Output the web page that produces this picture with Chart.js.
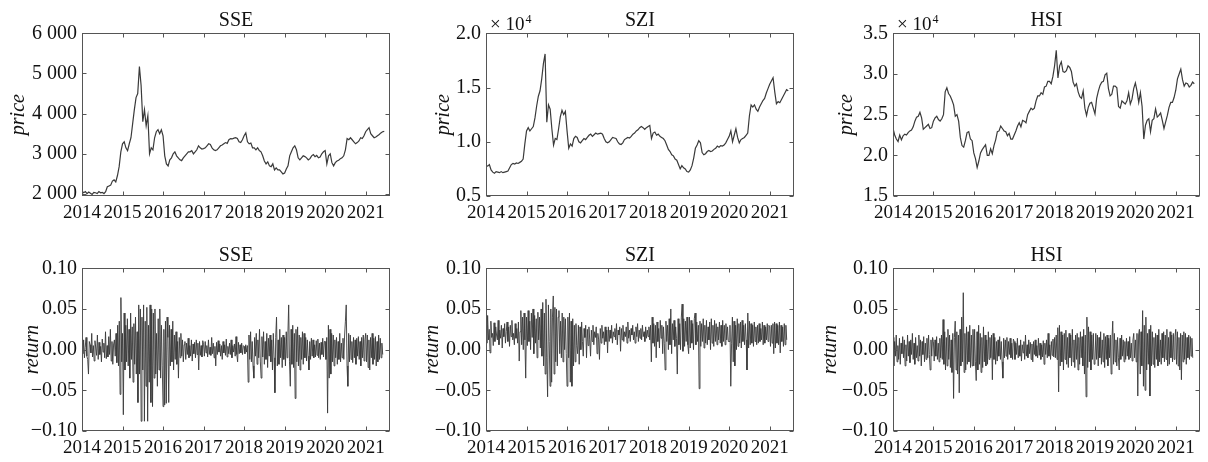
<!DOCTYPE html>
<html>
<head>
<meta charset="utf-8">
<script src="https://cdn.jsdelivr.net/npm/chart.js@4.4.1/dist/chart.umd.min.js"></script>
<style>
  body { margin: 0; background: #fff; overflow: hidden; }
  #wrap { position: relative; width: 1208px; height: 462px; }
  #wrap canvas { position: absolute; }
</style>
</head>
<body>
<div id="wrap">
  <canvas id="ssePriceChart" width="398" height="226" style="left:0px;top:0px"></canvas>
  <canvas id="szPriceChart" width="398" height="226" style="left:404px;top:0px"></canvas>
  <canvas id="hsiPriceChart" width="397" height="226" style="left:811px;top:0px"></canvas>
  <canvas id="sseReturnChart" width="398" height="226" style="left:0px;top:235px"></canvas>
  <canvas id="szReturnChart" width="398" height="226" style="left:404px;top:235px"></canvas>
  <canvas id="hsiReturnChart" width="397" height="226" style="left:811px;top:235px"></canvas>
</div>
<script>
// x axis: years, first observation at start of 2014
const firstYear = 2014
const years = [2014, 2015, 2016, 2017, 2018, 2019, 2020, 2021]

// price series, twice a month (24 per year)
const ssePrice = [
  2080, 2030, 2060, 2010, 2050, 2020, 1990, 2040, 2030, 2010, 2060, 2030, 2040, 2010, 2060, 2180, 2200, 2220, 2320, 2350, 2300, 2460, 2680, 3050,
  3250, 3300, 3150, 3080, 3250, 3400, 3750, 4100, 4400, 4500, 5170, 4700, 3800, 4100, 3700, 3950, 3000, 3150, 3100, 3400, 3550, 3600, 3500, 3600,
  3450, 2950, 2750, 2700, 2850, 2900, 3000, 3050, 2950, 2900, 2850, 2830, 2900, 2950, 3000, 3050, 3050, 3080, 3000, 3050, 3100, 3200, 3150, 3120,
  3130, 3150, 3200, 3250, 3230, 3150, 3100, 3080, 3100, 3150, 3200, 3220, 3250, 3280, 3260, 3350, 3380, 3370, 3390, 3400, 3380, 3300, 3280, 3350,
  3450, 3520, 3300, 3250, 3270, 3150, 3150, 3100, 3150, 3080, 3050, 2950, 2820, 2750, 2800, 2700, 2680, 2750, 2600, 2650, 2600, 2600, 2550, 2500,
  2520, 2620, 2700, 2950, 3050, 3150, 3200, 3100, 2900, 2850, 2900, 2950, 2930, 2900, 2850, 2880, 2950, 2980, 2930, 2960, 2900, 2920, 3000, 3050,
  3080, 2750, 2950, 3000, 2780, 2700, 2780, 2820, 2840, 2880, 2900, 2950, 3100, 3380, 3350, 3400, 3350, 3300, 3250, 3280, 3320, 3400, 3380, 3450,
  3550, 3600, 3650, 3500, 3450, 3400, 3420, 3450, 3480, 3520, 3550, 3560
]
const szPrice = [
  7800, 7750, 7900, 7400, 7200, 7100, 7250, 7200, 7150, 7250, 7150, 7200, 7250, 7300, 7600, 7900, 8000, 7950, 8050, 8000, 8100, 8200, 8400, 9800,
  11000, 11300, 11000, 11200, 11400, 12200, 13300, 14200, 14700, 15800, 17200, 18100, 11800, 13400, 13000, 11200, 9700, 10300, 10200, 11200, 12300, 12900, 12500, 12800,
  11000, 9400, 9800, 9600, 10300, 10500, 10400, 10000, 9900, 10100, 10300, 10200, 10400, 10600, 10700, 10500, 10650, 10800, 10700, 10750, 10800, 10700, 10300, 10000,
  9900, 10000, 10200, 10400, 10350, 10300, 10000, 9800, 9750, 9900, 10200, 10300, 10400, 10350, 10500, 10700, 10800, 11000, 11100, 11300, 11400, 11300, 11150, 11300,
  11400, 11500, 10300, 10800, 10900, 10600, 10700, 10500, 10400, 10300, 10100, 9700, 9300, 9100, 8800, 8700, 8400, 8300, 7900, 7500, 7800, 7600, 7500, 7250,
  7200, 7400, 7800, 8500, 9400, 9700, 10100, 9900, 9000, 8800, 8900, 9100, 9200, 9100, 9150, 9300, 9400, 9600, 9500, 9650, 9600, 9700, 9900, 10200,
  10500, 11000, 10000, 10600, 11200, 10400, 9900, 10200, 10300, 10400, 10600, 10800, 12400, 13400, 13200, 13400, 13000, 12800, 13200, 13500, 13800, 14000, 14500, 14900,
  15300, 15600, 15900, 14600, 13500, 13700, 13600, 13900, 14200, 14500, 14800, 14700
]
const hsiPrice = [
  23300, 22500, 22000, 21700, 22500, 21900, 22400, 22600, 22500, 22800, 23000, 23100, 23500, 24200, 24700, 24800, 25300, 24600, 23200, 23400, 23600, 23800, 23300, 23400,
  24200, 24600, 24800, 24400, 24200, 24500, 25000, 27800, 28300, 27600, 27300, 26800, 26200, 24800, 25000, 24200, 22200, 21200, 21000, 21800, 22800, 22900, 22000, 21800,
  20300, 19600, 18500, 19300, 20300, 20700, 21000, 21300, 20000, 20000, 20800, 20200, 21200, 21900, 22900, 23000, 23600, 23300, 23000, 22900, 22400, 22700, 22000, 22000,
  22500, 23000, 23600, 24000, 23500, 24300, 24200, 24000, 25000, 25400, 25800, 25600, 25800, 26700, 27300, 27300, 27700, 27500, 28400, 28500, 29100, 29100, 28800, 29700,
  31000, 32900, 29500, 31000, 31500, 30300, 30200, 30400, 31000, 30800, 30300, 29000, 28500, 28800, 27800, 27200, 27000, 27900, 25800, 24900, 25900, 26400, 26500, 25800,
  25100, 27000, 27900, 28600, 29000, 29100, 29900, 30100, 28200, 27300, 27500, 28500, 28500, 28300, 26000, 25800, 26700, 26500, 26300, 26700, 27700, 26300, 26900, 28200,
  28900, 27900, 26500, 27700, 26000, 22000, 23700, 24300, 24500, 22900, 24300, 24500, 25700, 24700, 24900, 25200, 24300, 23300, 24100, 24900, 25900, 26500, 26500, 27100,
  28000, 29400, 30000, 30600, 29300, 28500, 28900, 28800, 28400, 28600, 29000, 28800
]

// return series in per-mille, roughly weekly (50 per year)
const sseReturn = [
  8, -5, 12, -10, 3, 15, -8, -12, -30, 10, 6, -4, 20, -9, 5, -14, 11, 2, -7, 18, -12, 9, -6, 4, -15, 13, -3, 8, -10, 22, -11, 5, -9, 16, -6, 25, -14, 10, -18, 7, 12, -8, 20, -16, 30, -20, 35, -55, 64, -15,
  20, -80, 45, -25, 30, -15, 38, -20, 25, -35, 45, -12, 28, -40, 32, -18, 40, -30, 22, -65, 55, -30, 50, -88, 40, -25, 55, -88, 35, -45, 52, -88, 30, -40, 55, -65, 50, -70, 45, -35, 50, -30, 20, -45, 38, -25, 50, -35, 30, -20,
  -70, 25, -68, 35, -66, 40, 15, -65, 30, -20, 25, -15, 35, -25, 18, -12, 22, -18, 10, -35, 15, -10, 20, -8, 12, -15, 6, 10, -12, 8, -6, 14, -10, 5, -8, 12, -14, 7, -5, 9, -10, 12, -6, 8, -25, 10, -7, 5, -9, 11,
  6, -8, 10, -4, 5, -9, 12, -6, 3, -7, 15, -5, 8, -10, 4, -20, 9, -6, 11, -3, 7, -8, 5, -12, 10, -4, 6, -7, 13, -9, 4, -5, 8, -6, 12, -10, 5, -3, 7, -8, 16, -6, -15, 9, -5, 6, -4, 8, -6, 5,
  4, -5, 6, -3, 5, -40, 18, -12, 22, -15, 10, -20, -35, 15, -8, 20, -18, 12, -10, 25, -14, -35, 16, -9, 22, -18, 10, -12, 20, -22, 14, -8, 18, -15, 12, -25, 20, -10, -53, 15, 40, -20, 12, -18, 25, -10, 15, -22, 18, -12,
  15, -20, 22, -10, 18, 55, -15, -45, 25, -18, 30, -22, 20, -60, 25, -15, 28, -20, 18, -25, 15, -12, 22, -18, 20, -10, 15, -14, 12, -8, -25, 10, -12, 14, -8, 12, -10, 6, -9, 11, -7, 13, -10, 8, -12, 9, -6, 14, -9, 10,
  10, -12, 15, -78, 30, -35, 25, -30, 20, -15, 18, -20, 12, -10, 15, -18, 10, -12, 20, -15, 8, -10, 14, -12, 18, 35, 55, -20, -45, 20, -15, 18, -12, 10, -16, 15, -10, 12, -18, 14, -8, 16, -12, 10, -20, 15, -10, 18, -14, 12,
  20, -15, 18, -22, 12, -25, 15, -10, 20, -18, 14, -12, 16, -20, 10, -15, 18, -12, 14, -10, 8, -6
]
const szReturn = [
  30, 8, 42, 12, 25, -4, 35, 15, 20, 5, 33, 10, 28, 18, 12, 36, 6, 24, 14, 30, 2, 26, 16, 32, 8, 22, 34, 10, 28, 4, 30, 16, 36, 12, 20, 6, 32, 14, 26, 8, 34, -14, 22, 48, 6, 40, 0, 45, 12, -35,
  40, 5, 48, 10, 35, 0, 45, 15, 50, -5, 42, 8, 38, -10, 46, 12, 40, 2, 50, -8, 58, -20, 45, -30, 62, -10, -58, 55, 10, -45, 50, -40, 40, 66, -30, 52, -15, 50, -20, 40, 48, -5, 35, -10, 45, -15, 40, 0, 38, -5,
  -45, 40, -10, 45, -40, 35, -45, 38, -20, 30, -15, 32, 5, -5, 30, -18, 28, 0, 34, 10, -8, 26, 15, 30, -10, 25, 5, 28, 12, -8, 24, 10, 30, 6, 22, 15, 28, -5, 20, 12, -12, 26, 8, 30, 14, 22, 6, 28, 10, 24,
  -4, 28, 10, 24, 14, 30, 8, 22, 16, 26, 12, 32, 6, 24, 18, 28, -2, 26, 12, 30, 10, 22, 16, 28, 8, 34, 14, 24, 10, 26, 18, 30, 12, 22, 8, 28, 16, 32, 10, 24, 14, 26, 12, 30, 16, 22, 10, 28, 14, 24,
  16, 28, 12, 30, -15, 40, 8, 32, 4, 30, -10, 34, 10, 26, 2, 36, 14, 30, -5, 28, 8, -25, 35, 10, 30, 0, 38, 6, 50, -5, 32, 12, 36, 4, 28, 14, -30, 38, 6, 32, 0, 40, 56, -2, 38, 4, 35, 10, 40, 6,
  -5, 40, 2, 36, 8, 32, 0, 38, 45, 6, 34, 10, 30, -48, 35, 4, 32, 10, 38, 2, 30, 8, 36, 6, 28, 12, 34, 0, 38, 8, 30, 4, 36, 10, 32, 6, 28, 12, 34, 8, 30, 4, 36, 10, 30, 6, 32, 12, 28, 10,
  10, 30, -45, 8, 40, -15, 35, -20, 30, 0, 38, 4, 32, 8, 34, 2, 36, 10, 30, 6, 32, 12, -25, 45, 2, 35, 6, 32, 8, 30, 4, 34, 10, 28, 6, 30, 8, 32, 10, 26, 12, 34, 6, 30, 8, 28, 12, 32, 10, 30,
  28, 4, 30, 8, 32, -5, 34, 2, 32, 8, 30, 6, 34, -4, 30, 10, 28, 4, 32, 6, 30, 12
]
const hsiReturn = [
  15, -20, 10, -8, 18, -15, 5, -12, 14, -18, 8, -5, 16, -10, 12, -20, 6, -14, 18, -8, 10, -16, 12, -6, 20, -12, 8, -18, 15, -10, 5, -14, 18, -8, 12, -20, 10, -6, 16, -15, 8, -12, 14, -10, 18, -6, -25, 12, -8, 15,
  10, -14, 12, -8, 16, -12, 8, -15, 14, -10, 18, -12, 37, -18, 22, -25, 15, -20, 25, -12, 18, -22, 12, -28, 20, -60, 15, 35, -25, 22, -30, 18, -53, 25, -20, 40, -15, 70, -28, 20, -25, 28, -18, 22, -15, 30, -22, 18, -20, 25,
  -20, 25, -15, -38, 22, -25, 30, -18, 20, -28, 15, -22, 28, -15, 18, -20, 12, -18, 22, -12, 15, -10, 18, -37, 20, -12, 15, -18, 10, -14, 12, -8, 16, -12, 10, -15, -35, 14, -10, 12, -8, 15, -12, 10, -6, 14, -10, 8, -12, 13,
  10, -12, 8, -6, 14, -10, 5, -8, 12, -14, 6, -4, 10, -12, 18, -8, 6, -10, 12, -5, 9, -12, 7, -15, 10, -6, 12, -8, 5, -10, 14, -7, 8, -12, 6, -9, 11, -18, 8, -6, 12, -10, 20, -8, 6, -12, 10, -7, 13, -9,
  15, -10, 18, -12, 27, -52, 30, -20, 22, -15, 18, -25, 20, -12, 24, -18, 15, -22, 20, -10, 18, -20, 25, -15, 12, -22, 18, -12, 20, -25, 15, -18, 22, -10, 16, -20, 25, -30, 18, -58, 40, -22, 28, -15, 22, -25, 18, -12, 20, -18,
  -15, 20, -12, 18, -20, 15, -10, 22, -18, 12, -15, 20, -22, 16, -12, 18, -20, 14, -10, 18, -30, 12, 35, -18, 20, -15, 12, -20, 15, -10, -25, 14, -12, 18, -8, 12, -15, 10, -12, 14, -8, 10, -12, 16, -10, 8, -14, 12, 20, -10,
  12, -15, 20, -57, 18, 25, -30, 22, -20, 48, -45, 30, -50, 40, -25, 20, -18, 25, -57, 30, -20, 22, -18, 15, -22, 20, -12, 18, -20, 25, -15, 12, -18, 20, -10, 22, -15, 18, -12, 25, -20, 15, -18, 22, -10, 18, -15, 20, -12, 16,
  25, -18, 22, -20, 15, -25, 20, -37, 18, -15, 22, -12, 20, -18, 15, -10, 18, -12, 16, -8, 14, -10
]

// y tick values
const sseTicks = [2000, 3000, 4000, 5000, 6000]
const szTicks = [5000, 10000, 15000, 20000]
const hsiTicks = [15000, 20000, 25000, 30000, 35000]
const returnTicks = [-0.1, -0.05, 0, 0.05, 0.1]

Chart.defaults.font.family = '"Liberation Serif", "Times New Roman", serif'
Chart.defaults.color = '#111'

const fmtThousands = v => String(v).replace(/(\d)(\d{3})$/, '$1 $2')
const fmtTenThousands = v => (v / 10000).toFixed(1)
const fmtReturn = v => (v < 0 ? '\u2212' : '') + Math.abs(v).toFixed(2)

function toPoints(values, perYear, unit){
    return values.map((v, i) => ({x: firstYear + i / perYear, y: v * unit}))
}

/*frame with inward ticks on all four sides, title over the plot box, and the x10^4 note*/
const boxAndTicks = {
    id: 'boxAndTicks',
    afterDraw(chart, args, opts){
        const {ctx, chartArea: a} = chart
        const sx = chart.scales.x, sy = chart.scales.y
        const len = 4
        ctx.save()
        ctx.strokeStyle = '#555'
        ctx.lineWidth = 1
        const l = Math.round(a.left) + 0.5, r = Math.round(a.right) - 0.5
        const t = Math.round(a.top) + 0.5, b = Math.round(a.bottom) - 0.5
        ctx.strokeRect(l, t, r - l, b - t)
        ctx.beginPath()
        sx.ticks.forEach(tk => {
            const p = Math.round(sx.getPixelForValue(tk.value)) + 0.5
            ctx.moveTo(p, b); ctx.lineTo(p, b - len)
            ctx.moveTo(p, t); ctx.lineTo(p, t + len)
        })
        sy.ticks.forEach(tk => {
            const p = Math.round(sy.getPixelForValue(tk.value)) + 0.5
            ctx.moveTo(l, p); ctx.lineTo(l + len, p)
            ctx.moveTo(r, p); ctx.lineTo(r - len, p)
        })
        ctx.stroke()

        ctx.fillStyle = '#111'
        ctx.font = '20px "Liberation Serif"'
        ctx.textAlign = 'center'
        ctx.textBaseline = 'middle'
        ctx.fillText(opts.title, (a.left + a.right) / 2, a.top - 13)

        if(opts.multiplier){
            ctx.textAlign = 'left'
            ctx.textBaseline = 'alphabetic'
            ctx.font = '19px "Liberation Serif"'
            ctx.fillText('\u00d7 10', a.left + 4, a.top - 3.5)
            const w = ctx.measureText('\u00d7 10').width
            ctx.font = '12px "Liberation Serif"'
            ctx.fillText('4', a.left + 5 + w, a.top - 10)
        }
        ctx.restore()
    }
}

const panels = [
    {id: 'ssePriceChart', title: 'SSE', yLabel: 'price', values: ssePrice, perYear: 24, unit: 1, yMin: 1950, yMax: 6000, yTicks: sseTicks, fmt: fmtThousands, labelPad: 7, width: 1.2},
    {id: 'szPriceChart', title: 'SZI', yLabel: 'price', values: szPrice, perYear: 24, unit: 1, yMin: 5000, yMax: 20000, yTicks: szTicks, fmt: fmtTenThousands, labelPad: 27.3, multiplier: true, width: 1.2},
    {id: 'hsiPriceChart', title: 'HSI', yLabel: 'price', values: hsiPrice, perYear: 24, unit: 1, yMin: 15000, yMax: 35000, yTicks: hsiTicks, fmt: fmtTenThousands, labelPad: 23.7, multiplier: true, width: 1.2},
    {id: 'sseReturnChart', title: 'SSE', yLabel: 'return', values: sseReturn, perYear: 50, unit: 0.001, yMin: -0.1, yMax: 0.1, yTicks: returnTicks, fmt: fmtReturn, labelPad: 20.5, width: 0.9},
    {id: 'szReturnChart', title: 'SZI', yLabel: 'return', values: szReturn, perYear: 50, unit: 0.001, yMin: -0.1, yMax: 0.1, yTicks: returnTicks, fmt: fmtReturn, labelPad: 16.5, width: 0.9},
    {id: 'hsiReturnChart', title: 'HSI', yLabel: 'return', values: hsiReturn, perYear: 50, unit: 0.001, yMin: -0.1, yMax: 0.1, yTicks: returnTicks, fmt: fmtReturn, labelPad: 8, width: 0.9}
]

for(const p of panels){
    new Chart(document.getElementById(p.id), {
        type: 'line',
        data: {
            datasets: [{
                data: toPoints(p.values, p.perYear, p.unit),
                borderColor: '#3a3a3a',
                borderWidth: p.width,
                pointRadius: 0,
                tension: 0
            }]
        },
        options: {
            responsive: false,
            animation: false,
            devicePixelRatio: 1,
            events: [],
            layout: {padding: {left: 0, right: 8, top: 33.3, bottom: 0}},
            plugins: {
                legend: {display: false},
                tooltip: {enabled: false},
                title: {display: false},
                boxAndTicks: {title: p.title, multiplier: !!p.multiplier}
            },
            scales: {
                x: {
                    type: 'linear',
                    min: 2014,
                    max: 2021.6,
                    grid: {display: false, drawTicks: false},
                    border: {display: false},
                    afterBuildTicks: s => { s.ticks = years.map(v => ({value: v})) },
                    afterFit: s => { s.height = 30 },
                    ticks: {font: {size: 19}, padding: 6, maxRotation: 0, autoSkip: false, callback: v => String(v)}
                },
                y: {
                    min: p.yMin,
                    max: p.yMax,
                    grid: {display: false, drawTicks: false},
                    border: {display: false},
                    afterBuildTicks: s => { s.ticks = p.yTicks.map(v => ({value: v})) },
                    afterFit: s => { s.width = 82 },
                    ticks: {font: {size: 20}, padding: 5, callback: p.fmt},
                    title: {
                        display: true,
                        text: p.yLabel,
                        font: {size: 20, style: 'italic'},
                        padding: {top: p.labelPad, bottom: 0}
                    }
                }
            }
        },
        plugins: [boxAndTicks]
    })
}
</script>
</body>
</html>
